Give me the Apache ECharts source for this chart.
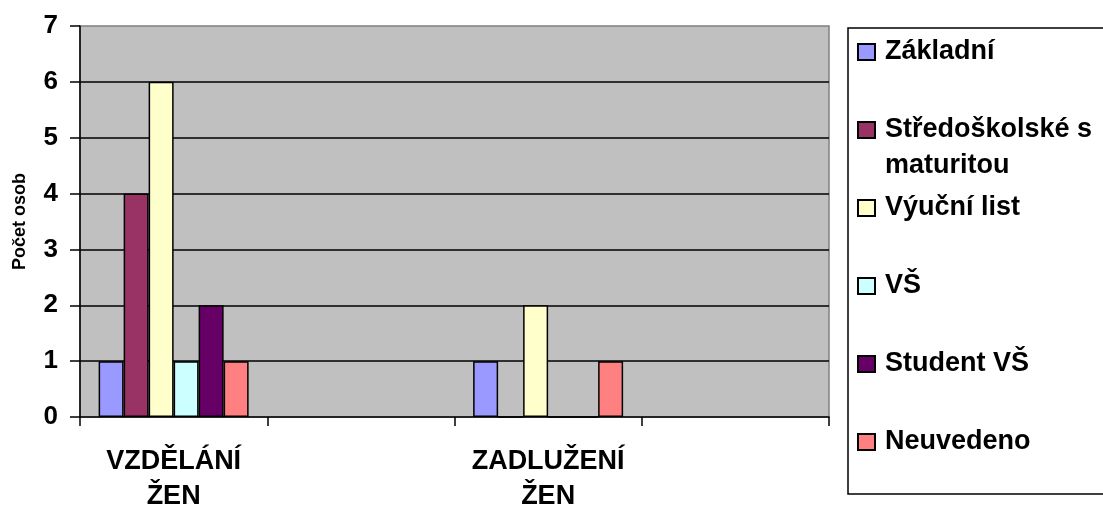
<!DOCTYPE html>
<html>
	<head>
		<meta charset="UTF-8">
		<title></title>
		<script src="https://cdn.jsdelivr.net/npm/echarts@6/dist/echarts.min.js"></script>
		<style>
			html, body { margin: 0; padding: 0; background: #fff; }
			#chart { width: 1103px; height: 507px; }
		</style>
	</head>
	<body>
		<div id="chart"></div>
		<script>
			// kategorie na ose x (2. a 4. jsou prázdné)
			var categories = ['VZDĚLÁNÍ\nŽEN', '', 'ZADLUŽENÍ\nŽEN', ''];
			var seriesNames = ['Základní', 'Středoškolské s maturitou', 'Výuční list', 'VŠ', 'Student VŠ', 'Neuvedeno'];
			var zakladni = [1, null, 1, null];
			var stredoskolske = [4, null, 0, null];
			var vyucni = [6, null, 2, null];
			var vs = [1, null, 0, null];
			var studentVs = [2, null, 0, null];
			var neuvedeno = [1, null, 1, null];
			var yTicks = [0, 1, 2, 3, 4, 5, 6, 7];

			var values = [zakladni, stredoskolske, vyucni, vs, studentVs, neuvedeno];
			var colors = ['#9999FF', '#993366', '#FFFFCC', '#CCFFFF', '#660066', '#FF8080'];
			var font = 'Liberation Sans, Arial, sans-serif';

			var myChart = echarts.init(document.getElementById('chart'));

			// legenda - každá položka zvlášť, aby šlo nastavit rozestupy
			var legends = seriesNames.map(function(name, i) {
				var center = 52 + i * 78;
				var twoLines = name === 'Středoškolské s maturitou';
				return {
					data: [name],
					orient: 'vertical',
					left: 857,
					top: twoLines ? center - 54 : center - 15,
					padding: 0,
					itemWidth: 17,
					itemHeight: 16,
					icon: 'rect',
					selectedMode: false,
					formatter: twoLines ? function() { return '\nStředoškolské s\nmaturitou'; } : '{name}',
					textStyle: {
						fontFamily: font,
						fontSize: 27,
						fontWeight: 'bold',
						color: '#000',
						lineHeight: twoLines ? 36 : 30,
						padding: [0, 0, 0, 5]
					}
				};
			});

			var option = {
				animation: false,
				backgroundColor: '#fff',
				grid: {
					left: 80,
					right: 274,
					top: 26,
					bottom: 90,
					show: true,
					backgroundColor: '#C0C0C0',
					borderColor: '#808080',
					borderWidth: 1.5,
					outerBoundsMode: 'none'
				},
				legend: legends,
				graphic: [{
					type: 'rect',
					shape: { x: 848, y: 28, width: 300, height: 466 },
					style: { fill: 'none', stroke: '#000', lineWidth: 1.5 },
					z: 1
				}],
				xAxis: {
					type: 'category',
					data: categories,
					axisLine: { lineStyle: { color: '#000', width: 1.5 } },
					axisTick: { show: true, interval: 0, length: 9, lineStyle: { color: '#000', width: 1.5 } },
					axisLabel: {
						interval: 0,
						margin: 27,
						fontFamily: font,
						fontSize: 27,
						fontWeight: 'bold',
						color: '#000',
						lineHeight: 35
					}
				},
				yAxis: {
					type: 'value',
					min: yTicks[0],
					max: yTicks[yTicks.length - 1],
					interval: 1,
					name: 'Počet osob',
					nameLocation: 'middle',
					nameGap: 51,
					nameTextStyle: {
						fontFamily: font,
						fontSize: 18,
						fontWeight: 'bold',
						color: '#000'
					},
					axisLine: { show: true, lineStyle: { color: '#000', width: 1.5 } },
					axisTick: { show: true, length: 10, lineStyle: { color: '#000', width: 1.5 } },
					axisLabel: {
						margin: 22,
						fontFamily: font,
						fontSize: 26,
						fontWeight: 'bold',
						color: '#000'
					},
					splitLine: {
						show: true,
						showMinLine: false,
						showMaxLine: false,
						lineStyle: { color: '#000', width: 1.5 }
					}
				},
				series: seriesNames.map(function(name, i) {
					return {
						name: name,
						type: 'bar',
						data: values[i],
						barWidth: 25,
						barGap: '0%',
						itemStyle: {
							color: colors[i],
							borderColor: '#000',
							borderWidth: 1.5
						}
					};
				})
			};

			myChart.setOption(option);
		</script>
	</body>
</html>
